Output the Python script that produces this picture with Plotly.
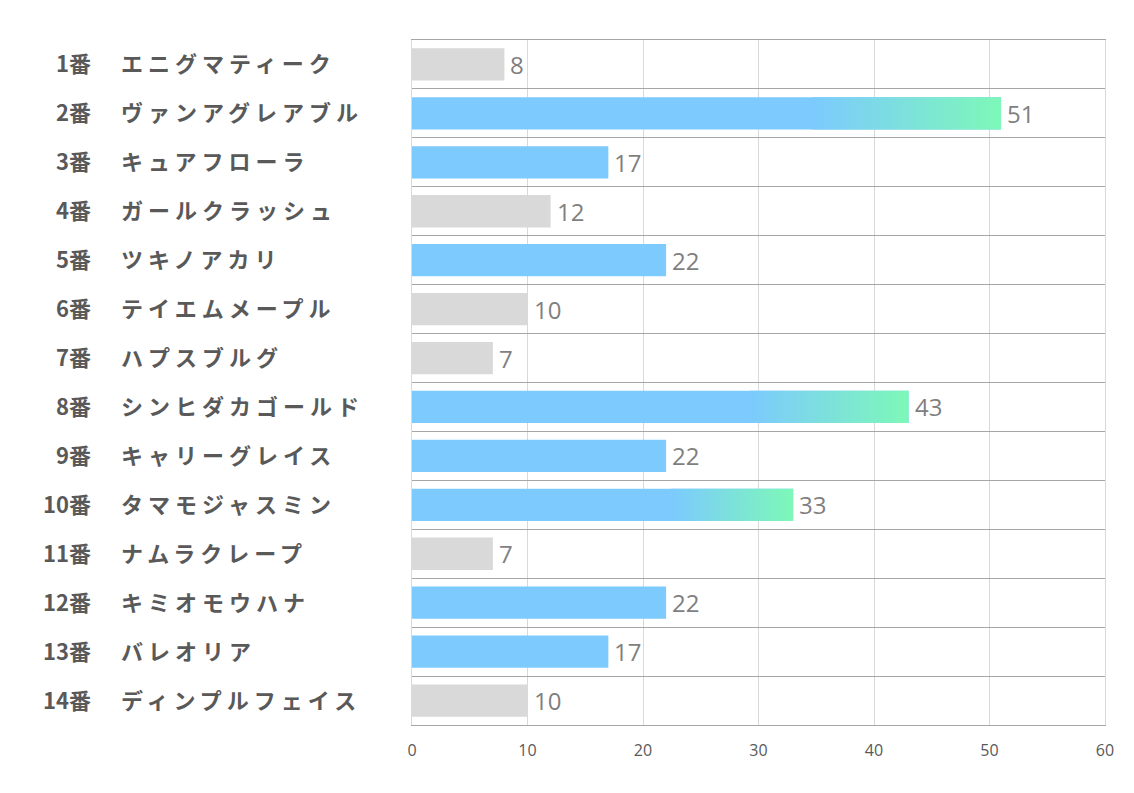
import plotly.graph_objects as go

# ---- data ----
numbers = ["1番", "2番", "3番", "4番", "5番", "6番", "7番",
           "8番", "9番", "10番", "11番", "12番", "13番", "14番"]
names = ["エニグマティーク", "ヴァンアグレアブル", "キュアフローラ", "ガールクラッシュ",
         "ツキノアカリ", "テイエムメープル", "ハプスブルグ", "シンヒダカゴールド",
         "キャリーグレイス", "タマモジャスミン", "ナムラクレープ", "キミオモウハナ",
         "バレオリア", "ディンプルフェイス"]
values = [8, 51, 17, 12, 22, 10, 7, 43, 22, 33, 7, 22, 17, 10]
tiers = ["low", "top", "mid", "low", "mid", "low", "low",
         "top", "mid", "top", "low", "mid", "mid", "low"]
x_ticks = [0, 10, 20, 30, 40, 50, 60]

# ---- style ----
GRAY = "#D9D9D9"
BLUE = "#7CCAFE"
GREEN = "#7DF8B8"
LABEL = "#595959"
VALUE = "#7F7F7F"
BAR_W = 0.66
GRAD_FROM = 0.68

tier_color = {"low": GRAY, "mid": BLUE, "top": BLUE}
ypos = list(range(len(values)))

fig = go.Figure()
fig.add_trace(go.Bar(
    x=values, y=ypos, orientation="h", width=BAR_W,
    marker=dict(color=[tier_color[t] for t in tiers], line=dict(width=0)),
    hoverinfo="skip", showlegend=False,
))

h = BAR_W / 2
for i, (v, t) in enumerate(zip(values, tiers)):
    if t != "top":
        continue
    g0 = v * GRAD_FROM
    fig.add_trace(go.Scatter(
        x=[g0, v, v, g0, g0], y=[i - h, i - h, i + h, i + h, i - h],
        mode="lines", line=dict(width=0), fill="toself",
        fillgradient=dict(type="horizontal", colorscale=[[0, BLUE], [1, GREEN]],
                          start=g0, stop=v),
        hoverinfo="skip", showlegend=False,
    ))

# page body has an 8px margin
OFF = 8
W, H = 1134, 793
L, R, T, B = 412 - OFF, 37, 40 - OFF, 76
pw = W - L - R

CJK = dict(family="Noto Sans CJK JP", size=22, color=LABEL, weight="bold")
annotations = []
for i, (num, nm, v) in enumerate(zip(numbers, names, values)):
    annotations.append(dict(
        x=(93 - OFF - L) / pw, y=i, xref="paper", yref="y", text=num, yshift=2,
        xanchor="right", yanchor="middle", align="right", showarrow=False, font=CJK,
    ))
    annotations.append(dict(
        x=(119 - OFF - L) / pw, y=i, xref="paper", yref="y", text=nm, yshift=2,
        xanchor="left", yanchor="middle", align="left", showarrow=False, font=CJK,
    ))
    annotations.append(dict(
        x=v, y=i, xref="x", yref="y", text=str(v), xshift=4, yshift=0,
        xanchor="left", yanchor="middle", align="left", showarrow=False,
        font=dict(family="Open Sans, sans-serif", size=24, color=VALUE),
    ))

fig.update_layout(
    width=W, height=H,
    margin=dict(l=L, r=R, t=T, b=B),
    paper_bgcolor="white", plot_bgcolor="white",
    annotations=annotations,
    xaxis=dict(range=[0, 60], tickvals=x_ticks, showgrid=True, gridcolor=GRAY,
               gridwidth=1, zeroline=False, showline=True, mirror=True,
               linecolor="#A6A6A6", linewidth=1, ticks="", ticklabelstandoff=11,
               tickfont=dict(family="Open Sans, sans-serif", size=16, color=LABEL)),
    yaxis=dict(range=[len(values) - 0.5, -0.5],
               tickvals=[i - 0.5 for i in range(len(values) + 1)],
               showgrid=True, gridcolor="#A6A6A6", gridwidth=1,
               showticklabels=False, zeroline=False, showline=True, mirror=True,
               linecolor=GRAY, linewidth=1, ticks=""),
)

post = """
document.querySelectorAll('g.annotation text').forEach(function(t){
  if (/[\\u30A0-\\u30FF]/.test(t.textContent)) { t.style.letterSpacing = '5px'; }
});
"""
fig.write_html("out.html", post_script=post)
